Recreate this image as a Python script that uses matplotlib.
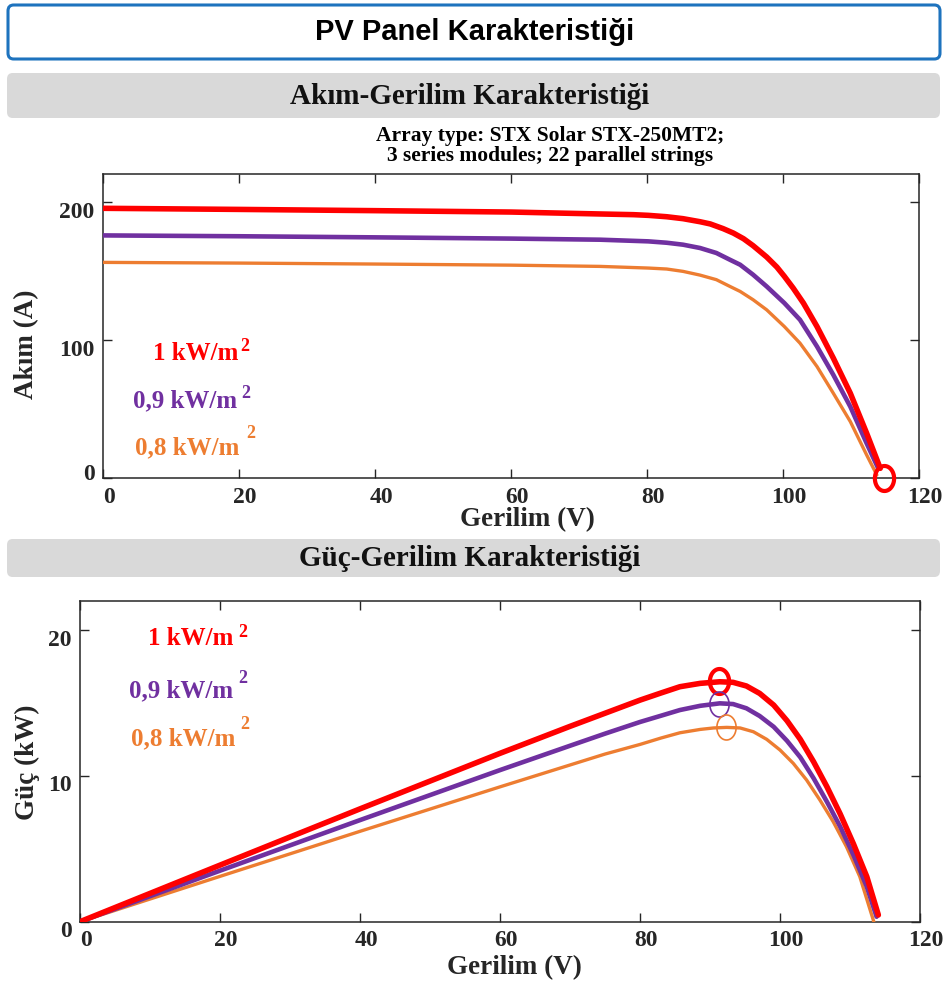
import matplotlib
matplotlib.use("Agg")
import matplotlib.pyplot as plt
from matplotlib.patches import FancyBboxPatch
from matplotlib.path import Path
from matplotlib.transforms import ScaledTranslation
import numpy as np

# ---------------- data ----------------
labels = ["1 kW/m", "0,9 kW/m", "0,8 kW/m"]
colors = ["#ff0000", "#7030a0", "#ed7d31"]

# I-V curves (V in volts, I in amps)
v_iv_1 = [0, 20, 40, 60, 73.1, 78.0, 80.2, 82.9, 85.3, 87.8, 89.3, 91.2, 92.7, 94.2, 95.6, 97.6,
          99.1, 100.2, 101.5, 103.0, 105.0, 107.4, 109.9, 112.3, 114.3]
i_iv_1 = [195.2, 194.4, 193.5, 192.5, 191.1, 190.6, 190.1, 189.1, 187.7, 185.5, 183.9, 180.5, 177.3,
          173.2, 168.2, 160.0, 152.7, 146.0, 137.5, 126.7, 109.7, 86.9, 61.5, 32.6, 7.2]
v_iv_09 = [0, 20, 40, 60, 73.1, 80.2, 82.9, 85.3, 87.8, 90.2, 92.2, 93.7, 95.6, 97.6, 100.2, 102.5,
           105.0, 107.4, 109.9, 112.3, 114.0]
i_iv_09 = [175.6, 175.0, 174.2, 173.3, 172.5, 171.3, 170.3, 168.9, 166.5, 162.9, 158.0, 154.4, 147.2,
           138.7, 126.7, 114.6, 95.3, 74.8, 51.8, 25.3, 7.2]
v_iv_08 = [0, 20, 40, 60, 73.1, 80.2, 82.9, 85.3, 87.8, 90.2, 92.2, 93.7, 95.6, 97.6, 100.2, 102.5,
           105.0, 107.4, 109.9, 112.3, 113.8]
i_iv_08 = [156.1, 155.6, 154.9, 154.1, 153.2, 152.0, 151.3, 149.6, 146.9, 143.6, 138.7, 135.1, 129.1,
           121.8, 109.7, 97.7, 80.8, 61.5, 41.0, 16.9, 2.4]

# P-V curves (V in volts, P in kW)
v_pv_1 = [0, 20, 40, 60, 70, 75, 80, 83, 85.7, 88.6, 91.4, 93.3, 95.2, 97.1, 99.1, 101.0, 102.9,
          104.8, 106.7, 108.6, 110.5, 112.4, 114.05]
p_pv_1 = [0, 3.88, 7.74, 11.55, 13.4, 14.3, 15.2, 15.69, 16.12, 16.35, 16.46, 16.42, 16.17, 15.66,
          14.86, 13.79, 12.51, 10.97, 9.26, 7.39, 5.33, 3.09, 0.46]
v_pv_09 = [0, 20, 40, 60, 70, 75, 80, 83, 85.7, 88.6, 91.4, 93.3, 95.2, 97.1, 99.1, 101.0, 102.9,
           104.8, 106.7, 108.6, 110.5, 112.4, 113.8]
p_pv_09 = [0, 3.5, 6.97, 10.4, 12.07, 12.9, 13.7, 14.13, 14.52, 14.81, 14.98, 14.93, 14.64, 14.11,
           13.37, 12.41, 11.28, 9.84, 8.23, 6.52, 4.57, 2.40, 0.34]
v_pv_08 = [0, 20, 40, 60, 70, 75, 80, 83, 85.7, 88.6, 90.5, 92.4, 94.3, 96.2, 98.1, 100.0, 101.9,
           103.8, 105.7, 107.6, 109.5, 111.4, 113.4]
p_pv_08 = [0, 3.11, 6.2, 9.25, 10.75, 11.5, 12.16, 12.6, 12.96, 13.19, 13.29, 13.33, 13.29, 13.03,
           12.51, 11.78, 10.86, 9.72, 8.35, 6.86, 5.14, 3.09, 0]

# marked points
voc_mark = (114.8, 0.5)
mpp_v = [91.3, 91.3, 92.3]
mpp_p = [16.5, 14.95, 13.33]

x_ticks = [0, 20, 40, 60, 80, 100, 120]
iv_yticks = [0, 100, 200]
pv_yticks = [0, 10, 20]

# ---------------- style ----------------
W, H = 946, 989
SERIF = "Liberation Serif"
SANS = "Liberation Sans"
AXC = "#262626"

fig = plt.figure(figsize=(W / 100, H / 100), dpi=100)


def fx(x):
    return x / W


def fy(y):
    return 1 - y / H


def box(x0, y0, x1, y1, **kw):
    p = FancyBboxPatch((fx(x0), fy(y1)), fx(x1) - fx(x0), fy(y0) - fy(y1),
                       boxstyle="round,pad=0,rounding_size=0.006",
                       transform=fig.transFigure, **kw)
    fig.add_artist(p)


box(8, 5, 940, 59, facecolor="white", edgecolor="#1e73be", linewidth=2.2)
box(7, 73, 940, 118, facecolor="#d9d9d9", edgecolor="none")
box(7, 539, 940, 577, facecolor="#d9d9d9", edgecolor="none")

fig.text(fx(475), fy(32), "PV Panel Karakteristiği", family=SANS, weight="bold",
         fontsize=21, ha="center", va="center", color="black")
fig.text(fx(470), fy(96), "Akım-Gerilim Karakteristiği", family=SERIF, weight="bold",
         fontsize=21, ha="center", va="center", color="#111111")
fig.text(fx(470), fy(558), "Güç-Gerilim Karakteristiği", family=SERIF, weight="bold",
         fontsize=21, ha="center", va="center", color="#111111")

# ellipse marker
t = np.linspace(0, 2 * np.pi, 60)
ell = Path(np.column_stack([np.cos(t), 1.3 * np.sin(t)]), closed=True)

widths = [4.0, 3.3, 2.4]


def style_axes(ax, yticks, ylim, yoffsets):
    ax.set_xlim(0, 120)
    ax.set_ylim(*ylim)
    ax.set_xticks(x_ticks)
    ax.set_yticks(yticks)
    ax.tick_params(direction="in", length=6.5, width=1.0, top=True, right=True,
                   colors=AXC, labelsize=17, pad=6)
    for s in ax.spines.values():
        s.set_color(AXC)
        s.set_linewidth(1.1)
    for lab in ax.get_xticklabels():
        lab.set_family(SERIF)
        lab.set_weight("bold")
        lab.set_transform(lab.get_transform() + ScaledTranslation(6 / 100, 0, fig.dpi_scale_trans))
    for lab, off in zip(ax.get_yticklabels(), yoffsets):
        lab.set_family(SERIF)
        lab.set_weight("bold")
        lab.set_transform(lab.get_transform() + ScaledTranslation(0, -off / 100, fig.dpi_scale_trans))


def draw_curves(ax, curves):
    for k in [2, 1, 0]:
        ax.plot(curves[k][0], curves[k][1], color=colors[k], lw=widths[k],
                solid_capstyle="round", solid_joinstyle="round", zorder=3 + (2 - k))


# ---------------- I-V axes ----------------
ax1 = fig.add_axes([fx(103), fy(478.3), fx(919) - fx(103), fy(174) - fy(478.3)])
draw_curves(ax1, [(v_iv_1, i_iv_1), (v_iv_09, i_iv_09), (v_iv_08, i_iv_08)])
ax1.plot([voc_mark[0]], [voc_mark[1]], marker=ell, markersize=18, markerfacecolor="none",
         markeredgecolor=colors[0], markeredgewidth=3, clip_on=False, zorder=10)
style_axes(ax1, iv_yticks, (0, 220), [-6, 8, 8])

ax1.set_xlabel("Gerilim (V)", family=SERIF, weight="bold", fontsize=19.5, color=AXC)
ax1.xaxis.set_label_coords(0.52, -0.135)
ax1.xaxis.label.set_va("center")
ax1.set_ylabel("Akım (A)", family=SERIF, weight="bold", fontsize=19.5, color=AXC)
ax1.yaxis.set_label_coords(-0.093, 0.441)
ax1.yaxis.label.set_va("center")

ax1.text(0.548, 1.092, "Array type: STX Solar STX-250MT2;\n3 series modules; 22 parallel strings",
         transform=ax1.transAxes, ha="center", va="center", family=SERIF, weight="bold",
         fontsize=15.5, linespacing=0.95, color="black")

iv_lab_pos = [(19.85, 85.6, 20.15, 92.1), (19.7, 51.6, 20.4, 58.1), (20.0, 17.6, 21.0, 29.2)]
for k, (x, y, xs, ys) in enumerate(iv_lab_pos):
    ax1.text(x, y, labels[k], ha="right", va="baseline", color=colors[k], family=SERIF,
             weight="bold", fontsize=18)
    ax1.text(xs, ys, "2", ha="left", va="baseline", color=colors[k], family=SERIF,
             weight="bold", fontsize=13)

# ---------------- P-V axes ----------------
ax2 = fig.add_axes([fx(80), fy(921.7), fx(920) - fx(80), fy(601) - fy(921.7)])
draw_curves(ax2, [(v_pv_1, p_pv_1), (v_pv_09, p_pv_09), (v_pv_08, p_pv_08)])
mew = [3.0, 1.2, 1.2]
for k in range(3):
    ax2.plot([mpp_v[k]], [mpp_p[k]], marker=ell, markersize=18, markerfacecolor="none",
             markeredgecolor=colors[k], markeredgewidth=mew[k], zorder=10)
style_axes(ax2, pv_yticks, (0, 22), [7, 7, 8])

ax2.set_xlabel("Gerilim (V)", family=SERIF, weight="bold", fontsize=19.5, color=AXC)
ax2.xaxis.set_label_coords(0.517, -0.144)
ax2.xaxis.label.set_va("center")
ax2.set_ylabel("Güç (kW)", family=SERIF, weight="bold", fontsize=19.5, color=AXC)
ax2.yaxis.set_label_coords(-0.063, 0.498)
ax2.yaxis.label.set_va("center")

pv_lab_pos = [(21.86, 18.98, 22.57, 19.53), (21.86, 15.41, 22.57, 16.37), (22.14, 12.12, 22.86, 13.22)]
for k, (x, y, xs, ys) in enumerate(pv_lab_pos):
    ax2.text(x, y, labels[k], ha="right", va="baseline", color=colors[k], family=SERIF,
             weight="bold", fontsize=18)
    ax2.text(xs, ys, "2", ha="left", va="baseline", color=colors[k], family=SERIF,
             weight="bold", fontsize=13)

fig.savefig("out.png", dpi=100)
